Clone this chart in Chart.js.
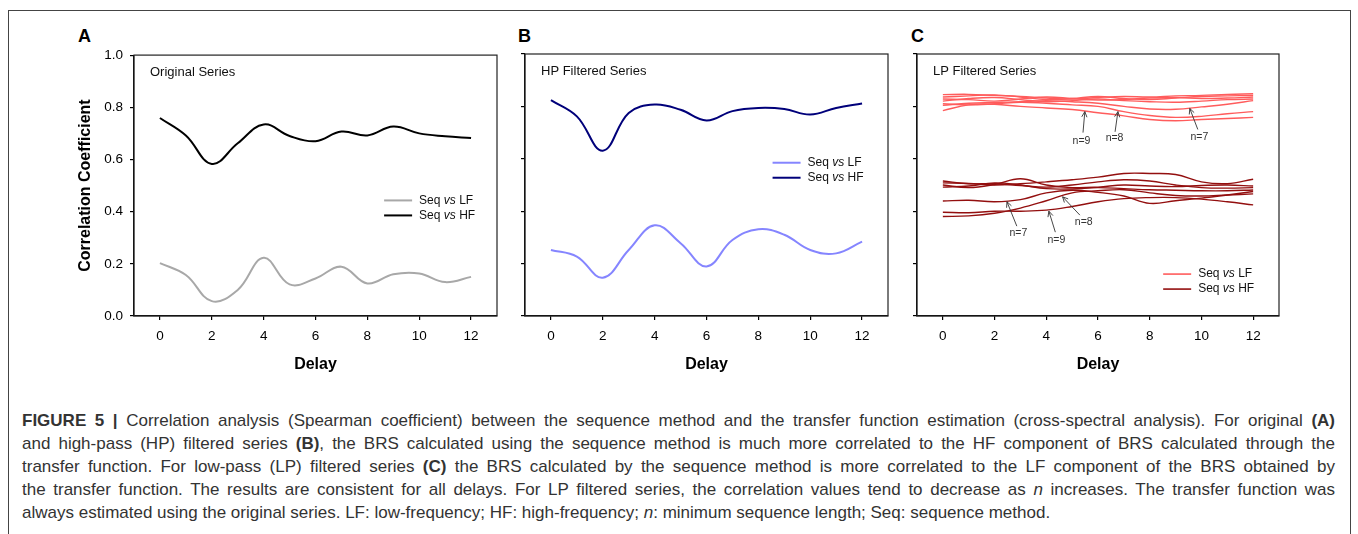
<!DOCTYPE html>
<html>
<head>
<meta charset="utf-8">
<script src="https://cdn.jsdelivr.net/npm/chart.js@4.4.1/dist/chart.umd.min.js"></script>
<style>
  body { margin: 0; background: #fff; width: 1358px; height: 534px; overflow: hidden; position: relative;
         font-family: 'Liberation Sans', Arial, sans-serif; }
  #frame { position: absolute; left: 8px; top: 10px; width: 1341px; height: 540px; border: 1px solid #444; border-bottom: none; }
  canvas { position: absolute; top: 40px; }
  .letter { position: absolute; top: 27px; font-weight: bold; font-size: 18px; line-height: 18px; color: #000; }
  #caption { position: absolute; left: 22px; top: 409px; width: 1313px; font-size: 17px; line-height: 23px; color: #333; }
  #caption div { white-space: nowrap; text-align: justify; text-align-last: justify; }
  #caption div.last { text-align-last: left; }
</style>
</head>
<body>
<div id="frame"></div>
<div class="letter" style="left:78px">A</div>
<div class="letter" style="left:518px">B</div>
<div class="letter" style="left:911px">C</div>
<canvas id="chartA" width="450" height="345" style="left:60px"></canvas>
<canvas id="chartB" width="390" height="345" style="left:510px"></canvas>
<canvas id="chartC" width="390" height="345" style="left:902px"></canvas>
<div id="caption">
  <div><b>FIGURE 5 |</b> Correlation analysis (Spearman coefficient) between the sequence method and the transfer function estimation (cross-spectral analysis). For original <b>(A)</b></div>
  <div>and high-pass (HP) filtered series <b>(B)</b>, the BRS calculated using the sequence method is much more correlated to the HF component of BRS calculated through the</div>
  <div>transfer function. For low-pass (LP) filtered series <b>(C)</b> the BRS calculated by the sequence method is more correlated to the LF component of the BRS obtained by</div>
  <div>the transfer function. The results are consistent for all delays. For LP filtered series, the correlation values tend to decrease as <i>n</i> increases. The transfer function was</div>
  <div class="last">always estimated using the original series. LF: low-frequency; HF: high-frequency; <i>n</i>: minimum sequence length; Seq: sequence method.</div>
</div>
<script>
const FONT = "'Liberation Sans', Arial, sans-serif";

// delays (x) and tick values
const delays = [0, 1, 2, 3, 4, 5, 6, 7, 8, 9, 10, 11, 12];
const xTickValues = [0, 2, 4, 6, 8, 10, 12];
const yTickValues = [0, 0.2, 0.4, 0.6, 0.8, 1.0];

// A: original series
const origLF = [0.203, 0.157, 0.057, 0.100, 0.223, 0.121, 0.144, 0.189, 0.125, 0.160, 0.163, 0.130, 0.150];
const origHF = [0.759, 0.692, 0.583, 0.662, 0.734, 0.690, 0.670, 0.707, 0.692, 0.726, 0.700, 0.689, 0.682];

// B: HP filtered series
const hpLF = [0.252, 0.227, 0.146, 0.252, 0.346, 0.278, 0.189, 0.290, 0.331, 0.310, 0.252, 0.239, 0.284];
const hpHF = [0.824, 0.762, 0.631, 0.775, 0.807, 0.787, 0.746, 0.782, 0.794, 0.790, 0.769, 0.794, 0.811];

// C: LP filtered series, one line per minimum sequence length n
const lpN = [3, 4, 5, 6, 7, 8, 9];
const lpLF3 = [0.845, 0.846, 0.842, 0.838, 0.832, 0.828, 0.834, 0.838, 0.836, 0.840, 0.842, 0.846, 0.848];
const lpLF4 = [0.836, 0.840, 0.844, 0.836, 0.826, 0.830, 0.838, 0.830, 0.826, 0.832, 0.838, 0.840, 0.842];
const lpLF5 = [0.828, 0.826, 0.820, 0.828, 0.836, 0.830, 0.824, 0.826, 0.832, 0.834, 0.830, 0.832, 0.836];
const lpLF6 = [0.820, 0.830, 0.834, 0.826, 0.818, 0.822, 0.828, 0.822, 0.818, 0.816, 0.820, 0.826, 0.828];
const lpLF7 = [0.804, 0.812, 0.815, 0.818, 0.822, 0.818, 0.812, 0.800, 0.790, 0.789, 0.798, 0.808, 0.822];
const lpLF8 = [0.810, 0.806, 0.810, 0.816, 0.812, 0.806, 0.800, 0.780, 0.765, 0.758, 0.762, 0.772, 0.780];
const lpLF9 = [0.784, 0.806, 0.808, 0.800, 0.794, 0.788, 0.776, 0.764, 0.750, 0.745, 0.750, 0.754, 0.758];
const lpHF3 = [0.508, 0.506, 0.500, 0.505, 0.512, 0.520, 0.530, 0.544, 0.544, 0.540, 0.512, 0.505, 0.522];
const lpHF4 = [0.500, 0.490, 0.502, 0.524, 0.500, 0.490, 0.492, 0.500, 0.496, 0.494, 0.498, 0.500, 0.496];
const lpHF5 = [0.515, 0.505, 0.505, 0.498, 0.492, 0.500, 0.512, 0.520, 0.515, 0.500, 0.490, 0.488, 0.490];
const lpHF6 = [0.492, 0.496, 0.508, 0.500, 0.486, 0.485, 0.490, 0.486, 0.482, 0.480, 0.478, 0.478, 0.481];
const lpHF7 = [0.439, 0.442, 0.436, 0.444, 0.470, 0.480, 0.472, 0.458, 0.430, 0.440, 0.450, 0.462, 0.475];
const lpHF8 = [0.380, 0.382, 0.392, 0.412, 0.440, 0.470, 0.478, 0.482, 0.470, 0.460, 0.458, 0.462, 0.466];
const lpHF9 = [0.396, 0.394, 0.400, 0.400, 0.404, 0.418, 0.436, 0.448, 0.452, 0.452, 0.446, 0.436, 0.424];
const lpLF = [lpLF3, lpLF4, lpLF5, lpLF6, lpLF7, lpLF8, lpLF9];
const lpHF = [lpHF3, lpHF4, lpHF5, lpHF6, lpHF7, lpHF8, lpHF9];

// arrow notes in panel C: label, text centre, arrow start, arrow tip (data units)
const cNotes = [
  { text: 'n=9', tx: 5.36, ty: 0.669, fx: 5.42, fy: 0.700, px: 5.49, py: 0.780 },
  { text: 'n=8', tx: 6.64, ty: 0.678, fx: 6.66, fy: 0.703, px: 6.77, py: 0.780 },
  { text: 'n=7', tx: 9.92, ty: 0.684, fx: 9.86, fy: 0.712, px: 9.55, py: 0.792 },
  { text: 'n=7', tx: 2.92, ty: 0.316, fx: 2.86, fy: 0.343, px: 2.48, py: 0.436 },
  { text: 'n=9', tx: 4.39, ty: 0.290, fx: 4.35, fy: 0.320, px: 4.10, py: 0.400 },
  { text: 'n=8', tx: 5.45, ty: 0.360, fx: 5.30, fy: 0.385, px: 4.63, py: 0.455 },
];

const colors = {
  origLF: '#a8a8a8', origHF: '#000000',
  hpLF: '#8585ff', hpHF: '#00007a',
  lpLF: '#ff5c5c', lpHF: '#930f0f',
};

function series(values, color, width) {
  return {
    data: delays.map((d, i) => ({ x: d, y: values[i] })),
    borderColor: color, borderWidth: width, pointRadius: 0, tension: 0.4, fill: false,
  };
}

// frame, panel title, in-plot legend, arrow notes
const panelDecor = {
  id: 'panelDecor',
  afterDatasetsDraw(chart, args, o) {
    const { ctx, chartArea: a, scales: { x, y } } = chart;
    ctx.save();
    ctx.strokeStyle = '#222';
    ctx.lineWidth = 1.2;
    ctx.strokeRect(a.left, a.top, a.width, a.height);

    ctx.fillStyle = '#111';
    ctx.font = '13px ' + FONT;
    ctx.textBaseline = 'middle';
    ctx.textAlign = 'left';
    ctx.fillText(o.title, a.left + 16, a.top + 17);

    const lx = a.left + a.width * o.legendX;
    let ly = a.top + a.height * o.legendY;
    o.legend.forEach(it => {
      ctx.strokeStyle = it.color;
      ctx.lineWidth = it.width;
      ctx.beginPath();
      ctx.moveTo(lx, ly);
      ctx.lineTo(lx + 28, ly);
      ctx.stroke();
      let tx = lx + 35;
      ctx.fillStyle = '#111';
      [['Seq ', ''], ['vs', 'italic '], [' ' + it.tag, '']].forEach(([s, st]) => {
        ctx.font = st + '12px ' + FONT;
        ctx.fillText(s, tx, ly);
        tx += ctx.measureText(s).width;
      });
      ly += 15;
    });

    (o.notes || []).forEach(n => {
      const fx = x.getPixelForValue(n.fx), fy = y.getPixelForValue(n.fy);
      const px = x.getPixelForValue(n.px), py = y.getPixelForValue(n.py);
      ctx.strokeStyle = '#333';
      ctx.lineWidth = 0.9;
      ctx.beginPath();
      ctx.moveTo(fx, fy);
      ctx.lineTo(px, py);
      const ang = Math.atan2(py - fy, px - fx);
      [0.45, -0.45].forEach(d => {
        ctx.moveTo(px, py);
        ctx.lineTo(px - 6 * Math.cos(ang + d), py - 6 * Math.sin(ang + d));
      });
      ctx.stroke();
      ctx.fillStyle = '#333';
      ctx.font = '10.5px ' + FONT;
      ctx.textAlign = 'center';
      ctx.fillText(n.text, x.getPixelForValue(n.tx), y.getPixelForValue(n.ty));
      ctx.textAlign = 'left';
    });
    ctx.restore();
  }
};

function buildOptions(p) {
  return {
    responsive: false,
    animation: false,
    layout: { padding: { top: 14, right: p.padRight, left: 0, bottom: 0 } },
    plugins: {
      legend: { display: false },
      tooltip: { enabled: false },
      panelDecor: { title: p.title, legend: p.legend, legendX: p.legendX, legendY: p.legendY, notes: p.notes },
    },
    scales: {
      x: {
        type: 'linear', min: -1, max: 13,
        afterBuildTicks: s => { s.ticks = xTickValues.map(v => ({ value: v })); },
        afterFit: s => { s.height = 69; },
        grid: { drawOnChartArea: false, drawTicks: true, tickLength: 4, color: '#000', lineWidth: 1.2 },
        border: { display: true, color: '#000', width: 1.2 },
        ticks: { font: { size: 13.5, family: FONT }, color: '#000', padding: 8, maxRotation: 0 },
        title: { display: true, text: 'Delay', color: '#000',
                 font: { size: 16, weight: 'bold', family: FONT }, padding: { top: 0, bottom: 11 } },
      },
      y: {
        min: 0, max: 1,
        afterBuildTicks: s => { s.ticks = yTickValues.map(v => ({ value: v })); },
        afterFit: s => { s.width = p.yWidth; },
        grid: { drawOnChartArea: false, drawTicks: true, tickLength: 4, color: '#000', lineWidth: 1.2 },
        border: { display: true, color: '#000', width: 1.2 },
        ticks: { display: p.yLabels, font: { size: 13.5, family: FONT }, color: '#000', padding: 7,
                 callback: v => v.toFixed(1) },
        title: { display: p.yLabels, text: 'Correlation Coefficient', color: '#000',
                 font: { size: 16, weight: 'bold', family: FONT }, padding: { top: 16, bottom: 0 } },
      },
    },
  };
}

new Chart(document.getElementById('chartA'), {
  type: 'line',
  data: { datasets: [series(origLF, colors.origLF, 2), series(origHF, colors.origHF, 2)] },
  options: buildOptions({
    title: 'Original Series', yWidth: 74, yLabels: true, padRight: 13,
    legend: [{ tag: 'LF', color: colors.origLF, width: 2 }, { tag: 'HF', color: colors.origHF, width: 2 }],
    legendX: 0.689, legendY: 0.557,
  }),
  plugins: [panelDecor],
});

new Chart(document.getElementById('chartB'), {
  type: 'line',
  data: { datasets: [series(hpLF, colors.hpLF, 2), series(hpHF, colors.hpHF, 2)] },
  options: buildOptions({
    title: 'HP Filtered Series', yWidth: 15, yLabels: false, padRight: 12,
    legend: [{ tag: 'LF', color: colors.hpLF, width: 2 }, { tag: 'HF', color: colors.hpHF, width: 2 }],
    legendX: 0.682, legendY: 0.415,
  }),
  plugins: [panelDecor],
});

new Chart(document.getElementById('chartC'), {
  type: 'line',
  data: {
    datasets: [
      ...lpLF.map(v => series(v, colors.lpLF, 1.4)),
      ...lpHF.map(v => series(v, colors.lpHF, 1.4)),
    ],
  },
  options: buildOptions({
    title: 'LP Filtered Series', yWidth: 15, yLabels: false, padRight: 13,
    legend: [{ tag: 'LF', color: colors.lpLF, width: 1.6 }, { tag: 'HF', color: colors.lpHF, width: 1.6 }],
    legendX: 0.680, legendY: 0.84, notes: cNotes,
  }),
  plugins: [panelDecor],
});
</script>
</body>
</html>
